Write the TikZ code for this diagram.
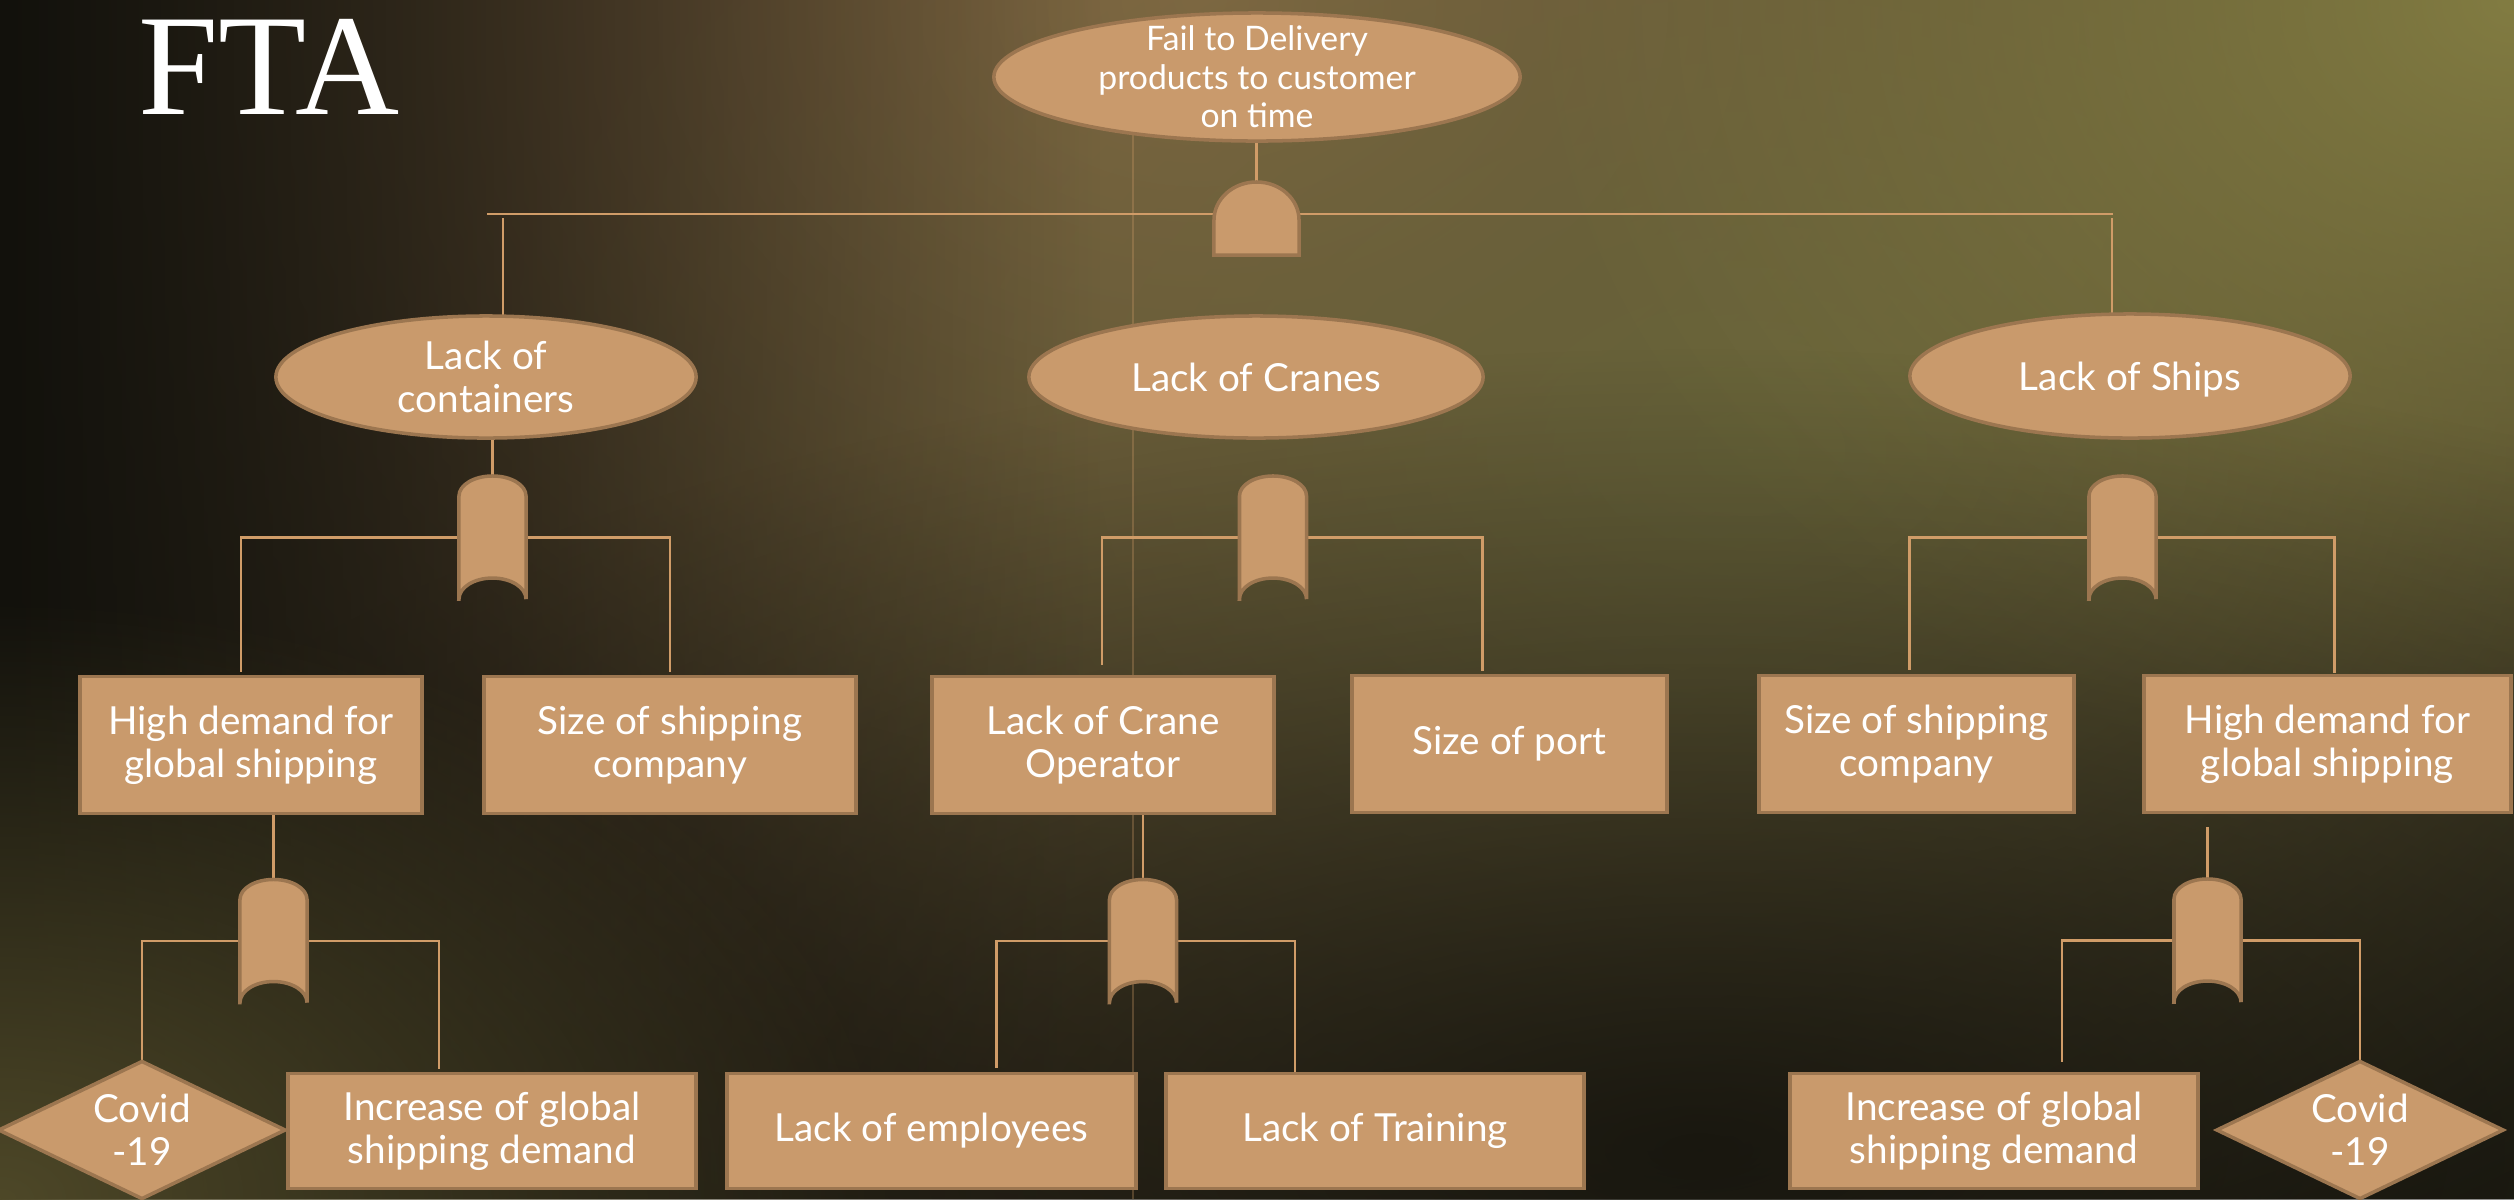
\documentclass[tikz,border=0pt]{standalone}
\usepackage{fontspec}
\setmainfont{Lato}
\newfontfamily\titlefont{Liberation Serif}
\usetikzlibrary{shapes.geometric,fadings,calc}

\definecolor{tan}{RGB}{201,154,108}
\definecolor{tanedge}{RGB}{156,118,80}
\definecolor{wirecol}{RGB}{208,156,104}
\definecolor{bgbase}{RGB}{34,32,21}
\definecolor{bgbrown}{RGB}{136,106,70}
\definecolor{bgolive}{RGB}{104,100,58}
\definecolor{bgcorner}{RGB}{130,124,66}
\definecolor{bgmoss}{RGB}{78,72,40}
\definecolor{bgdark}{RGB}{18,17,12}

\pgfdeclarelayer{bg}
\pgfdeclarelayer{wires}
\pgfsetlayers{bg,wires,main}

\tikzfading[name=glow, inner color=transparent!0, outer color=transparent!100]
\tikzfading[name=fadeeast, left color=transparent!0, right color=transparent!100]

\tikzset{
  event/.style={ellipse, fill=tan, draw=tanedge, line width=1pt, text=white,
    inner sep=0pt, outer sep=0pt, align=center, font=\fontsize{11}{12.2}\selectfont},
  basic/.style={rectangle, fill=tan, draw=tanedge, line width=1pt, text=white,
    inner sep=0pt, outer sep=0pt, align=center, font=\fontsize{11}{12.2}\selectfont},
  cause/.style={diamond, aspect=2.09, fill=tan, draw=tanedge, line width=1pt, text=white,
    inner sep=0pt, outer sep=0pt, align=center, minimum width=2.86cm, minimum height=1.37cm,
    font=\fontsize{11}{12.2}\selectfont},
  gatebox/.style={rectangle, inner sep=0pt, outer sep=0pt, minimum width=0.67cm, minimum height=1.23cm},
  gatefill/.style={fill=tan, draw=tanedge, line width=1pt},
  wire/.style={draw=wirecol, line width=0.7pt},
}

% OR gate: round top, hollow bottom
\newcommand{\orgate}[2]{%
  \node[gatebox] (#1) at (#2) {};
  \filldraw[gatefill] (#1.south west) -- ++(0cm,1.03cm)
    arc[start angle=180, end angle=0, x radius=0.335cm, y radius=0.2cm]
    -- (#1.south east)
    arc[start angle=0, end angle=180, x radius=0.335cm, y radius=0.21cm] -- cycle;}
% AND gate: round top, flat bottom
\newcommand{\andgate}[2]{%
  \node[gatebox, minimum width=0.85cm, minimum height=0.73cm] (#1) at (#2) {};
  \filldraw[gatefill] (#1.south west) -- ++(0cm,0.35cm)
    arc[start angle=180, end angle=0, x radius=0.425cm, y radius=0.38cm]
    -- (#1.south east) -- cycle;}

\begin{document}
\begin{tikzpicture}[x=0.01cm, y=-0.01cm]
  \useasboundingbox (0,0) rectangle (2514,1199);

  % Background
  \begin{pgfonlayer}{bg}
    \fill[bgbase] (0,0) rectangle (2514,1199);
    \fill[bgbrown, path fading=glow] (1200,0) ellipse [x radius=19cm, y radius=15cm];
    \fill[bgolive, path fading=glow] (1750,450) ellipse [x radius=13cm, y radius=9cm];
    \fill[bgcorner, path fading=glow] (2514,0) ellipse [x radius=10cm, y radius=8cm];
    \fill[bgdark, path fading=glow, opacity=0.85] (1700,1150) ellipse [x radius=18cm, y radius=8cm];
    \fill[bgdark, path fading=fadeeast] (0,0) rectangle (1100,1199);
    \fill[bgmoss, path fading=glow] (0,1199) ellipse [x radius=9cm, y radius=6cm];
  \end{pgfonlayer}

  % Title
  \node[anchor=base west, inner sep=0pt, text=white, font=\titlefont\fontsize{41}{42}\selectfont]
    (title) at (138,114) {FTA};

  % Top event
  \node[event, minimum width=5.26cm, minimum height=1.28cm, inner ysep=-0.1cm,
    font=\fontsize{9.6}{10.9}\selectfont] (top) at (1257,77)
    {Fail to Delivery\\products to customer\\on time};
  \andgate{gand}{1256.5,218.5}

  % Intermediate events
  \node[event, minimum width=4.20cm, minimum height=1.22cm] (cont) at (486,377) {Lack of\\containers};
  \node[event, minimum width=4.54cm, minimum height=1.22cm] (cranes) at (1256,377) {Lack of Cranes};
  \node[event, minimum width=4.40cm, minimum height=1.24cm, text depth=0pt] (ships) at (2130,376) {Lack of Ships};

  \orgate{gcont}{492.5,537.5}
  \orgate{gcran}{1273,537.5}
  \orgate{gship}{2122.5,537.5}

  % Second row
  \node[basic, minimum width=3.42cm, minimum height=1.37cm] (high1) at (251,745) {High demand for\\global shipping};
  \node[basic, minimum width=3.72cm, minimum height=1.37cm] (size1) at (670,745) {Size of shipping\\company};
  \node[basic, minimum width=3.42cm, minimum height=1.37cm] (oper) at (1103,745) {Lack of Crane\\Operator};
  \node[basic, minimum width=3.15cm, minimum height=1.37cm] (port) at (1509.5,744) {Size of port};
  \node[basic, minimum width=3.15cm, minimum height=1.37cm] (size2) at (1916.5,744) {Size of shipping\\company};
  \node[basic, minimum width=3.67cm, minimum height=1.37cm] (high2) at (2327.5,744) {High demand for\\global shipping};

  \orgate{ghigh}{273.5,941}
  \orgate{goper}{1143,941}
  \orgate{gdem}{2207.5,940.5}

  % Basic events
  \node[cause] (covid1) at (142,1130) {Covid\\-19};
  \node[basic, minimum width=4.08cm, minimum height=1.15cm] (incr1) at (492,1131) {Increase of global\\shipping demand};
  \node[basic, minimum width=4.09cm, minimum height=1.15cm] (empl) at (931.5,1131) {Lack of employees};
  \node[basic, minimum width=4.18cm, minimum height=1.15cm] (train) at (1375,1131) {Lack of Training};
  \node[basic, minimum width=4.08cm, minimum height=1.15cm] (incr2) at (1994,1131) {Increase of global\\shipping demand};
  \node[cause] (covid2) at (2360,1130) {Covid\\-19};

  % Connectors
  \begin{pgfonlayer}{wires}
    \draw[wirecol, opacity=0.3, line width=0.4pt] (1133,134) -- (1133,1199);
    \draw[wire] (gand.north) -- (gand.north |- top.south);
    \coordinate (busL) at (487,214);
    \coordinate (busR) at (2113,214);
    \coordinate (dropL) at (503,218);
    \coordinate (dropR) at (2112,218);
    \draw[wire] (busL) -- (busR);
    \draw[wire] (dropL) -- (dropL |- cont.north);
    \draw[wire] (dropR) -- (dropR |- ships.north);

    \draw[wire] (gcont.north) -- (gcont.north |- cont.south);
    \draw[wire] (gcont.west) -| ([xshift=-0.10cm, yshift=0.04cm]high1.north);
    \draw[wire] (gcont.east) -| ([yshift=0.04cm]size1.north);
    \draw[wire] (gcran.west) -| ([xshift=-0.01cm, yshift=0.11cm]oper.north);
    \draw[wire] (gcran.east) -| ([xshift=-0.27cm, yshift=0.04cm]port.north);
    \draw[wire] (gship.west) -| ([xshift=-0.07cm, yshift=0.05cm]size2.north);
    \draw[wire] (gship.east) -| ([xshift=0.07cm, yshift=0.02cm]high2.north);

    \draw[wire] (ghigh.north) -- (ghigh.north |- high1.south);
    \draw[wire] (ghigh.west) -| (covid1.north);
    \draw[wire] (ghigh.east) -| ([xshift=-0.53cm, yshift=0.04cm]incr1.north);
    \draw[wire] (goper.north) -- (goper.north |- oper.south);
    \draw[wire] (goper.west) -| ([xshift=0.65cm, yshift=0.05cm]empl.north);
    \draw[wire] (goper.east) -| ([xshift=-0.80cm]train.north);
    \draw[wire] (gdem.north) -- ([yshift=-0.14cm]gdem.north |- high2.south);
    \draw[wire] (gdem.west) -| ([xshift=0.68cm, yshift=0.11cm]incr2.north);
    \draw[wire] (gdem.east) -| (covid2.north);
  \end{pgfonlayer}
\end{tikzpicture}
\end{document}
